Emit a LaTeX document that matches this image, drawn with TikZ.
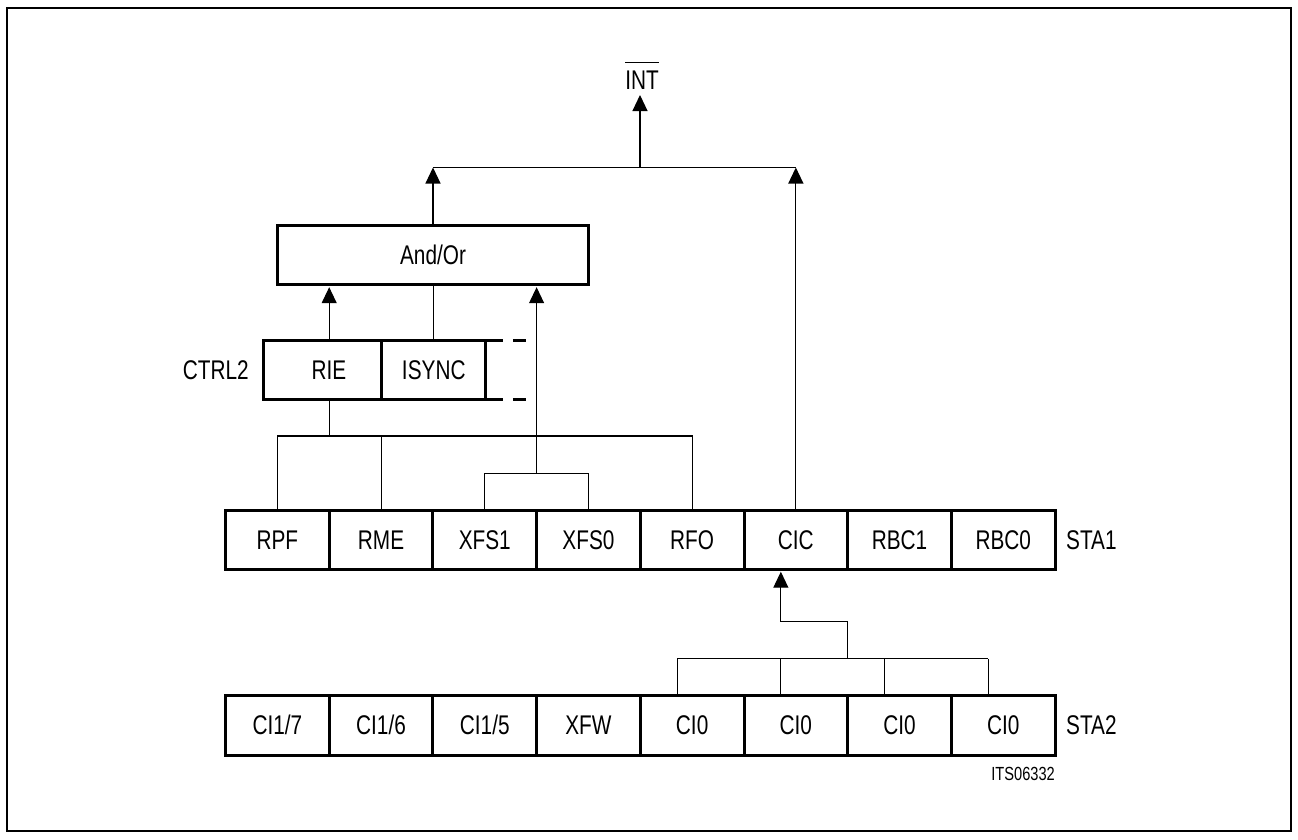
\documentclass[tikz,border=0pt]{standalone}
\usepackage{fontspec}
\setmainfont{Liberation Sans}[FakeStretch=0.77]
\usetikzlibrary{arrows.meta,calc}
\begin{document}
\begin{tikzpicture}[x=1pt,y=-1pt,
  txt/.style={font=\fontsize{27}{31}\selectfont,text height=19.3pt,text depth=0pt},
  cell/.style={draw,line width=3pt,minimum height=59pt,inner sep=0pt,outer sep=0pt,txt},
  wire/.style={line width=1.1pt},
  arr/.style={wire,-{Triangle[length=16pt,width=15pt]}},
  lbl/.style={inner sep=0pt,txt}]
\useasboundingbox (0,0) rectangle (1298,839);
\draw[line width=1.5pt] (7,8) rectangle (1291,831);

% STA1 and STA2 register rows
\foreach \t [count=\i] in {RPF,RME,XFS1,XFS0,RFO,CIC,RBC1,RBC0}
  \node[cell,minimum width=103.7pt] (s1-\i) at ({225.5+103.7*(\i-0.5)},539.5) {\t};
\foreach \t [count=\i] in {CI1/7,CI1/6,CI1/5,XFW,CI0,CI0,CI0,CI0}
  \node[cell,minimum width=103.7pt,minimum height=60pt] (s2-\i) at ({225.5+103.7*(\i-0.5)},725.3) {\t};

% And/Or and CTRL2
\node[cell,minimum width=311pt,minimum height=59.4pt] (andor) at (433,255) {And/Or};
\node[cell,minimum width=118.7pt,minimum height=59.3pt] (rie) at (322.35,369.65) {\hspace*{13pt}RIE};
\node[cell,minimum width=104.1pt,minimum height=59.3pt] (isync) at (433.75,369.65) {ISYNC};
\draw[line width=3pt] (isync.north east) -- ++(17.5,0) (isync.north east) ++(27,0) -- ++(13,0);
\draw[line width=3pt] (isync.south east) -- ++(17.5,0) (isync.south east) ++(27,0) -- ++(13,0);

% labels
\node[lbl] (intl) at (642,80) {INT};
\draw[line width=1pt] ($(intl.north west)+(0,-8)$) -- ($(intl.north east)+(0,-8)$);
\node[lbl,anchor=east] (ctrl) at (249,369.65) {CTRL2};
\node[lbl,anchor=west] (sta1) at (1066,539.5) {STA1};
\node[lbl,anchor=west] (sta2) at (1066,725.3) {STA2};
\node[inner sep=0pt,anchor=east,font=\fontsize{19}{22}\selectfont] (its) at (1055,774.2) {ITS06332};

% bus coordinates
\coordinate (tb) at (640,167.5);
\coordinate (inttip) at (640,95);
\coordinate (b1) at (0,436);
\coordinate (b2) at (0,473.3);
\coordinate (b3) at (0,658.7);
\coordinate (el) at (0,621.7);

% top
\draw[wire] (andor.north |- tb) -- (s1-6.north |- tb);
\draw[arr] (tb) -- (inttip);
\draw[arr] (andor.north) -- (andor.north |- tb);
\draw[arr] (s1-6.north) -- (s1-6.north |- tb);

% into And/Or
\draw[arr,shorten >=2.5pt] (rie.north -| s1-1.east) -- (andor.south -| s1-1.east);
\draw[wire] (isync.north) -- (andor.south -| isync.north);
\draw[arr,shorten >=2.5pt] (s1-3.east |- b2) -- (andor.south -| s1-3.east);

% STA1 to CTRL2 bus
\draw[wire] (rie.south -| s1-1.east) -- (s1-1.east |- b1);
\draw[wire] (s1-1.north) |- (s1-5.north |- b1) -- (s1-5.north);
\draw[wire] (s1-2.north) -- (s1-2.north |- b1);
\draw[wire] (s1-3.north) |- (s1-4.north |- b2) -- (s1-4.north);

% STA2 to CIC
\foreach \i in {5,...,8} {
  \path ($(s2-\i.north)+(-15,0)$) coordinate (t\i);
  \draw[wire] (t\i) -- (t\i |- b3);
}
\draw[wire] (t5 |- b3) -- (t8 |- b3);
\draw[arr,shorten >=2.7pt] (s1-6.east |- b3) |- (t6 |- el) -- (t6 |- s1-6.south);
\end{tikzpicture}
\end{document}
